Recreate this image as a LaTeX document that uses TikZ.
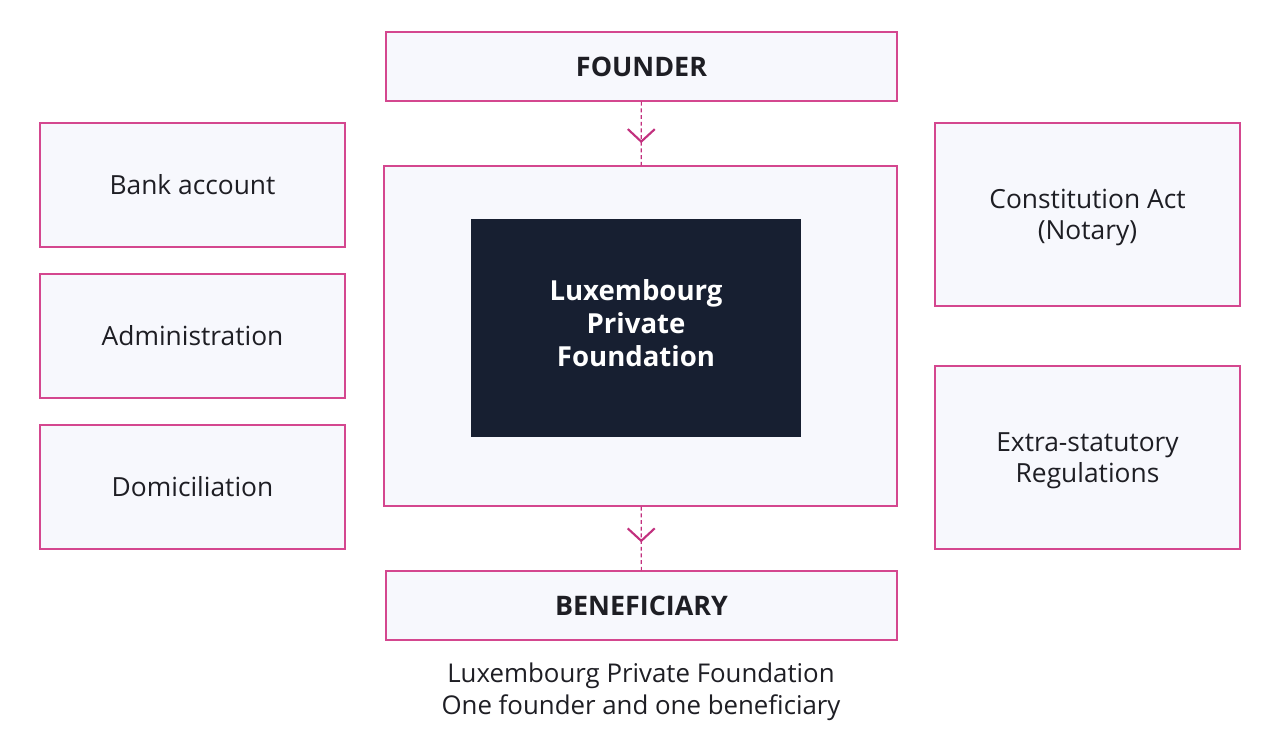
\documentclass[tikz,border=0pt]{standalone}
\usepackage{fontspec}
\setmainfont{Open Sans}
\usepackage{tikz}
\usetikzlibrary{positioning,arrows.meta,decorations.markings}
\definecolor{edge}{HTML}{D4478F}
\definecolor{tip}{HTML}{C2307E}
\definecolor{paper}{HTML}{F7F8FD}
\definecolor{navy}{HTML}{171F31}
\definecolor{ink}{HTML}{1E1E24}
\tikzset{
    block/.style = {
        draw=edge,
        fill=paper,
        shape=rectangle,
        inner sep=0pt,
        line width=0.85pt,
        text=ink,
        align=center,
        font=\fontsize{15}{17.8}\selectfont
    },
    party/.style = {
        block,
        minimum width=10.22cm,
        minimum height=1.38cm,
        font=\fontsize{15.3}{18}\selectfont\bfseries
    },
    side/.style = {
        block,
        minimum width=6.1cm,
        minimum height=2.48cm
    },
    tall/.style = {
        block,
        minimum width=6.1cm,
        minimum height=3.66cm,
        text depth=-5pt
    },
    core/.style = {
        fill=navy,
        shape=rectangle,
        text=white,
        align=center,
        minimum width=6.6cm,
        minimum height=4.36cm,
        text depth=6pt,
        font=\fontsize{15.7}{18.7}\selectfont\bfseries
    },
    flow/.style = {
        draw=tip,
        line width=0.7pt,
        dash pattern=on 2.2pt off 1.6pt,
        postaction={decorate},
        decoration={markings, mark=at position #1 with
            {\arrow[solid,line width=1.2pt]{Straight Barb[length=0.25cm,width=0.54cm]}}}
    },
}

\begin{document}
\begin{tikzpicture}[x=0.02cm,y=-0.02cm]
                \useasboundingbox[fill=white] (0,0) rectangle (1280,747);

                \node[party] (founder) at (641.5,66.5) {FOUNDER};
                \node[block, minimum width=10.26cm, minimum height=6.8cm] (frame) at (640.5,336) {};
                \node[core] (lpf) at (636,328) {Luxembourg\\Private\\Foundation};
                \node[party] (benef) at (641.5,605.5) {BENEFICIARY};

                \node[side] (bank) at (192.5,185) {Bank account};
                \node[side] (admin) at (192.5,336) {Administration};
                \node[side] (domic) at (192.5,487) {Domiciliation};

                \node[tall] (const) at (1087.5,214.5) {Constitution Act\\(Notary)};
                \node[tall] (regs) at (1087.5,457.5) {Extra-statutory\\Regulations};

                \node[text=ink, align=center, font=\fontsize{14.7}{18.1}\selectfont] (caption) at (641,691.5)
                    {Luxembourg Private Foundation\\One founder and one beneficiary};

                \path[flow=0.65] (founder) -- (frame);
                \path[flow=0.56] (frame) -- (benef);
            \end{tikzpicture}
\end{document}
